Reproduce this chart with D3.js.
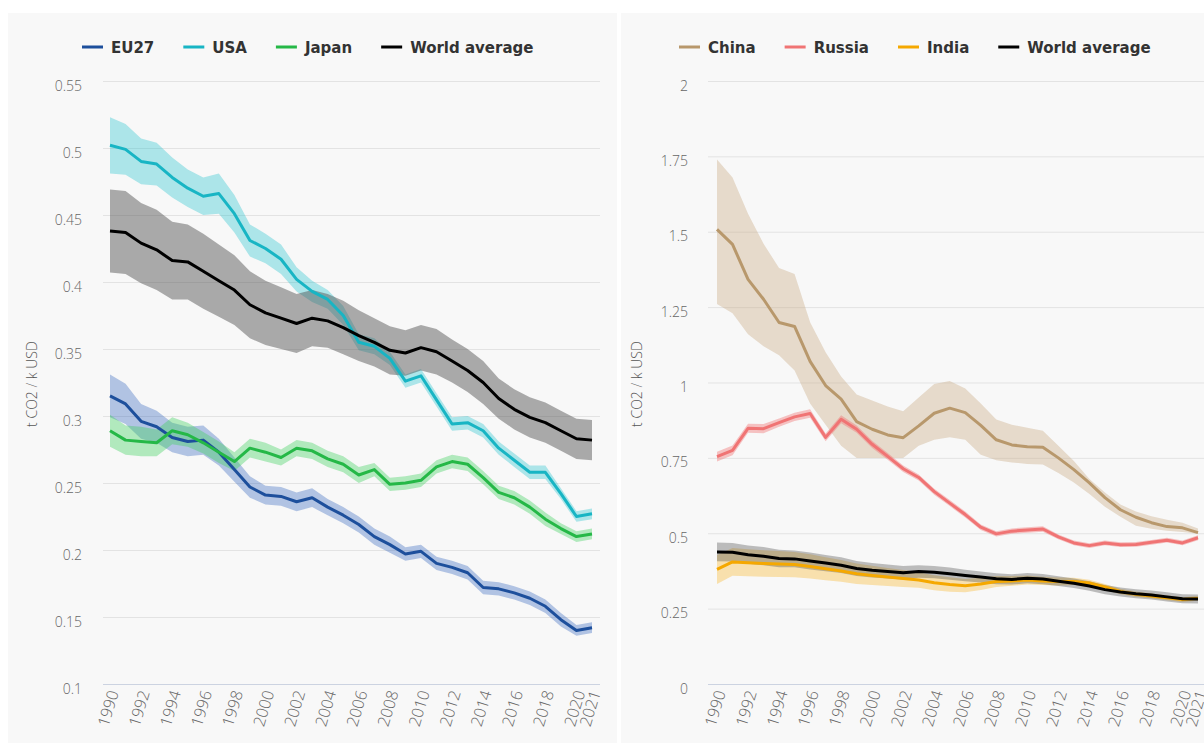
<!DOCTYPE html>
<html><head><meta charset="utf-8">
<script src="https://cdn.jsdelivr.net/npm/d3@7/dist/d3.min.js"></script>
<style>
html,body{margin:0;padding:0;background:#fff;}
svg{display:block;}
</style></head>
<body>
<svg id="chart" width="1204" height="743"></svg>
<script>
const years = d3.range(1990, 2022);
const yearTicks = [1990,1992,1994,1996,1998,2000,2002,2004,2006,2008,2010,2012,2014,2016,2018,2020,2021];
const leftTicks = [0.1,0.15,0.2,0.25,0.3,0.35,0.4,0.45,0.5,0.55];
const rightTicks = [0,0.25,0.5,0.75,1,1.25,1.5,1.75,2];

const eu27 = [.315,.309,.296,.292,.284,.281,.282,.273,.260,.247,.241,.240,.236,.239,.232,.226,.219,.210,.204,.197,.199,.190,.187,.183,.172,.171,.168,.164,.158,.148,.140,.142];
const eu27Spread = [.016,.015,.013,.012,.011,.011,.011,.010,.009,.008,.007,.007,.007,.007,.006,.006,.006,.006,.006,.005,.005,.005,.005,.005,.005,.005,.005,.005,.005,.005,.004,.004];
const usa = [.502,.499,.490,.488,.478,.470,.464,.466,.451,.431,.425,.417,.402,.393,.387,.375,.355,.352,.343,.326,.330,.312,.294,.295,.289,.276,.267,.258,.258,.242,.225,.227];
const usaSpread = [.021,.019,.017,.016,.015,.014,.014,.015,.014,.012,.011,.011,.009,.008,.007,.007,.006,.006,.005,.005,.005,.005,.005,.005,.005,.005,.005,.005,.005,.004,.004,.004];
const japan = [.289,.282,.281,.280,.289,.286,.280,.273,.266,.276,.273,.269,.276,.274,.268,.264,.256,.260,.249,.250,.252,.262,.266,.264,.254,.243,.239,.232,.223,.216,.210,.212];
const japanSpread = [.012,.011,.011,.010,.010,.009,.008,.008,.007,.007,.007,.006,.006,.006,.006,.006,.006,.005,.005,.005,.005,.005,.005,.005,.005,.005,.005,.005,.005,.004,.004,.004];
const world = [.438,.437,.429,.424,.416,.415,.408,.401,.394,.383,.377,.373,.369,.373,.371,.366,.360,.355,.349,.347,.351,.348,.341,.334,.325,.313,.305,.299,.295,.289,.283,.282];
const worldSpread = [.031,.031,.030,.030,.029,.028,.028,.027,.026,.025,.024,.023,.022,.021,.020,.020,.019,.018,.018,.017,.017,.017,.016,.016,.016,.015,.015,.015,.015,.015,.015,.015];

const china = [1.508,1.458,1.342,1.276,1.199,1.186,1.07,0.99,0.945,0.87,0.845,0.826,0.817,0.856,0.898,0.915,0.900,0.858,0.810,0.793,0.787,0.785,0.750,0.711,0.667,0.618,0.578,0.553,0.535,0.522,0.518,0.502];
const chinaHigh = [1.74,1.68,1.56,1.46,1.38,1.36,1.20,1.10,1.02,0.96,0.94,0.92,0.905,0.95,0.995,1.005,0.98,0.93,0.877,0.86,0.85,0.84,0.79,0.74,0.68,0.635,0.595,0.572,0.556,0.545,0.535,0.516];
const chinaLow = [1.26,1.23,1.16,1.12,1.09,1.04,0.93,0.86,0.79,0.75,0.75,0.75,0.75,0.79,0.81,0.818,0.81,0.76,0.742,0.735,0.73,0.728,0.70,0.668,0.63,0.588,0.555,0.525,0.515,0.508,0.504,0.498];
const russia = [.754,.775,.848,.847,.867,.886,.897,.818,.878,.845,.795,.755,.714,.685,.638,.600,.562,.520,.498,.507,.511,.514,.488,.468,.459,.468,.462,.463,.470,.477,.468,.485];
const russiaSpread = [.016,.016,.015,.015,.014,.014,.014,.013,.013,.012,.012,.011,.011,.010,.010,.010,.010,.009,.009,.009,.009,.009,.008,.008,.008,.008,.008,.008,.008,.008,.008,.008];
const india = [.380,.405,.402,.400,.398,.396,.390,.382,.375,.366,.360,.355,.350,.345,.336,.330,.326,.332,.340,.342,.345,.342,.340,.340,.335,.322,.307,.298,.292,.286,.280,.284];
const indiaSpread = [.048,.046,.045,.044,.043,.042,.040,.038,.036,.034,.032,.030,.028,.026,.025,.024,.022,.020,.018,.016,.015,.014,.013,.012,.011,.010,.009,.009,.008,.008,.008,.008];

const svg = d3.select('#chart');
svg.append('rect').attr('x',8).attr('y',13).attr('width',609).attr('height',730).attr('fill','#f8f8f8');
svg.append('rect').attr('x',621).attr('y',13).attr('width',583).attr('height',730).attr('fill','#f8f8f8');

function panel(cfg){
  const g = svg.append('g');
  const x = d3.scaleLinear().domain([1990,2021]).range(cfg.xr);
  const y = d3.scaleLinear().domain(cfg.yd).range([684,81]);
  g.append('g').selectAll('line').data(cfg.yt).join('line')
    .attr('x1',cfg.gx[0]).attr('x2',cfg.gx[1])
    .attr('y1',d=>y(d)+0.5).attr('y2',d=>y(d)+0.5)
    .attr('stroke',(d,i)=>i===0?'#ccd3e1':'#e3e3e3').attr('stroke-width',1);
  const yAxis = d3.axisLeft(y).tickValues(cfg.yt).tickSize(0).tickPadding(0).tickFormat(d=>String(d));
  const ya = g.append('g').attr('transform',`translate(${cfg.ylx},0)`).call(yAxis);
  ya.select('.domain').remove();
  ya.selectAll('text').attr('font-family','Open Sans').attr('font-weight',300).attr('font-size',14).attr('fill','#666').attr('dy','0.65em');
  const xAxis = d3.axisBottom(x).tickValues(yearTicks).tickSize(0).tickFormat(d=>String(d));
  const xa = g.append('g').attr('transform','translate(0,689)').call(xAxis);
  xa.select('.domain').remove();
  xa.selectAll('text').attr('font-family','Open Sans').attr('font-weight',300).attr('font-size',16).attr('fill','#666')
    .attr('text-anchor','end').attr('dy','0.35em').attr('transform','translate(3,2) rotate(-73)').attr('y',0).attr('x',0);
  g.append('text').attr('transform',`translate(${cfg.tx},384) rotate(-90)`).attr('text-anchor','middle')
    .attr('font-family','Open Sans').attr('font-weight',300).attr('font-size',14).attr('fill','#555').text('t CO2 / k USD');
  const area = d3.area().x((d,i)=>x(years[i])).y0(d=>y(d[0])).y1(d=>y(d[1]));
  const line = d3.line().x((d,i)=>x(years[i])).y(d=>y(d));
  cfg.series.forEach(s=>{
    g.append('path').datum(s.lo.map((v,i)=>[v,s.hi[i]])).attr('d',area).attr('fill',s.band).attr('fill-opacity',s.op);
  });
  cfg.series.forEach(s=>{
    g.append('path').datum(s.v).attr('d',line).attr('fill','none').attr('stroke',s.color).attr('stroke-width',3).attr('stroke-linejoin','round');
  });
  let lx = cfg.lx;
  cfg.series.forEach(s=>{
    g.append('line').attr('x1',lx).attr('x2',lx+21).attr('y1',47).attr('y2',47).attr('stroke',s.color).attr('stroke-width',3);
    const t = g.append('text').attr('x',lx+29).attr('y',52.5).attr('font-family','DejaVu Sans').attr('font-weight','bold')
      .attr('font-size',15).attr('fill','#333').text(s.name);
    lx += 29 + t.node().getComputedTextLength() + s.gap;
  });
}

function lohi(v,sp){return {lo:v.map((d,i)=>d-sp[i]), hi:v.map((d,i)=>d+sp[i])};}

panel({xr:[110,592], yd:[0.1,0.55], yt:leftTicks, gx:[103,600], ylx:82, tx:37, lx:82,
  series:[
    Object.assign({name:'EU27', v:eu27, color:'#1d4f9c', band:'#3c6bc0', op:0.38, gap:29}, lohi(eu27,eu27Spread)),
    Object.assign({name:'USA', v:usa, color:'#18b5c4', band:'#30c6d0', op:0.38, gap:29}, lohi(usa,usaSpread)),
    Object.assign({name:'Japan', v:japan, color:'#25b847', band:'#3dd05c', op:0.38, gap:29}, lohi(japan,japanSpread)),
    Object.assign({name:'World average', v:world, color:'#000', band:'#4a4a4a', op:0.45, gap:29}, lohi(world,worldSpread))
  ]});
panel({xr:[717,1198], yd:[0,2], yt:rightTicks, gx:[708,1204], ylx:688, tx:642, lx:679,
  series:[
    {name:'China', v:china, color:'#b8986c', band:'#cbad87', op:0.4, gap:29, lo:chinaLow, hi:chinaHigh},
    Object.assign({name:'Russia', v:russia, color:'#f07474', band:'#f06e6e', op:0.4, gap:29}, lohi(russia,russiaSpread)),
    Object.assign({name:'India', v:india, color:'#f5a800', band:'#f8bc3c', op:0.4, gap:29}, lohi(india,indiaSpread)),
    Object.assign({name:'World average', v:world, color:'#000', band:'#4a4a4a', op:0.35, gap:29}, lohi(world,worldSpread))
  ]});
</script>
</body></html>
